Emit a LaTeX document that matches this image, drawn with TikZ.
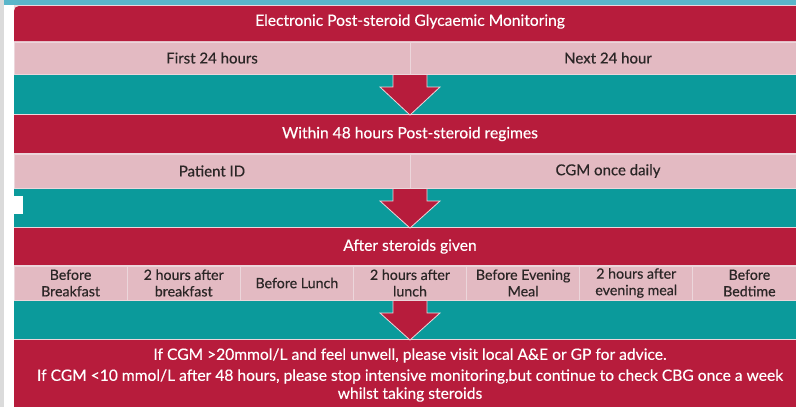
\documentclass[tikz,border=0pt]{standalone}
\usepackage{fontspec}
\setmainfont{Lato}[BoldFont={Lato}, BoldFeatures={FakeBold=0.4}]
\definecolor{crimson}{HTML}{B71C3C}
\definecolor{blush}{HTML}{E3BAC2}
\definecolor{teal3}{HTML}{0B9A9B}
\definecolor{sky3}{HTML}{5AB6CA}
\definecolor{ink}{HTML}{2B2626}
\definecolor{seam}{HTML}{ECD6DB}

% block arrow sitting in a teal gap band, #1 = name of that band
\newcommand{\flowarrow}[1]{%
  \filldraw[blockarrow] ([xshift=-17pt]#1.north) -- ([xshift=-17pt,yshift=-12pt]#1.north)
    -- ([xshift=-30pt,yshift=-12pt]#1.north) -- ([yshift=-1pt]#1.south)
    -- ([xshift=30pt,yshift=-12pt]#1.north) -- ([xshift=17pt,yshift=-12pt]#1.north)
    -- ([xshift=17pt]#1.north);}

\begin{document}
\begin{tikzpicture}[x=1pt, y=-1pt, every node/.style={inner sep=0pt, outer sep=0pt},
  bandtext/.style={text=white, font=\fontsize{15.6}{18}\selectfont\bfseries},
  redband/.style={fill=crimson, minimum width=792pt, bandtext},
  tealband/.style={fill=teal3, minimum width=792pt},
  pinkcell/.style={fill=blush, draw=seam, line width=0.7pt, text=ink, align=center,
    font=\fontsize{15}{18}\selectfont\bfseries},
  slotcell/.style={pinkcell, minimum width=113.14pt, minimum height=34pt,
    font=\fontsize{14.2}{16.5}\selectfont\bfseries},
  blockarrow/.style={fill=crimson, draw=seam, line width=0.8pt, line join=miter}]

  \useasboundingbox (0,0) rectangle (796,407);
  \clip (0,0) rectangle (796,407);

  % page edge and top strip
  \fill[black!14] (0,0) rectangle (3.5,407);
  \fill[sky3] (3.5,0) rectangle (796,4.5);
  \fill[seam] (14,4.5) rectangle (806,407);

  % first block
  \fill[crimson] (14,41) [rounded corners=5pt] -- (14,6) [sharp corners] -- (806,6) -- (806,41) -- cycle;
  \node[bandtext] (title) at (410,21.5) {Electronic Post-steroid Glycaemic Monitoring};
  \node[pinkcell, minimum width=396pt, minimum height=32pt] (first) at (212,58) {First 24 hours};
  \node[pinkcell, minimum width=396pt, minimum height=32pt] (next) at (608,58) {Next 24 hour};
  \node[tealband, minimum height=39pt] (gapA) at (410,94.5) {};

  % second block
  \node[redband, minimum height=38pt] (within) at (410,134) {Within 48 hours Post-steroid regimes};
  \node[pinkcell, minimum width=396pt, minimum height=34pt] (patient) at (212,171) {Patient ID};
  \node[pinkcell, minimum width=396pt, minimum height=34pt] (cgm) at (608,171) {CGM once daily};
  \node[tealband, minimum height=38pt] (gapB) at (410,208) {};
  \fill[white] (14,196) rectangle (23,214);

  % third block
  \node[redband, minimum height=37pt] (given) at (410,246.5) {After steroids given};
  \foreach \txt [count=\i] in {{Before\\Breakfast}, {2 hours after\\breakfast}, {Before Lunch},
      {2 hours after\\lunch}, {Before Evening\\Meal}, {2 hours after\\evening meal}, {Before\\Bedtime}}
    \node[slotcell] (slot\i) at ({14+(\i-0.5)*113.14},283) {\txt};
  \node[tealband, minimum height=38pt] (gapC) at (410,320) {};

  % advice block
  \node[redband, minimum height=70pt] (advice) at (410,375) {};
  \node[bandtext, align=center, font=\fontsize{15.6}{18}\selectfont\bfseries] (adviceText) at (410,375)
    {If CGM >20mmol/L and feel unwell, please visit local A\&E or GP for advice.\\[3pt]
     If CGM <10 mmol/L after 48 hours, please stop intensive monitoring,but continue to check CBG once a week\\
     whilst taking steroids};

  \flowarrow{gapA}
  \flowarrow{gapB}
  \flowarrow{gapC}

\end{tikzpicture}
\end{document}
